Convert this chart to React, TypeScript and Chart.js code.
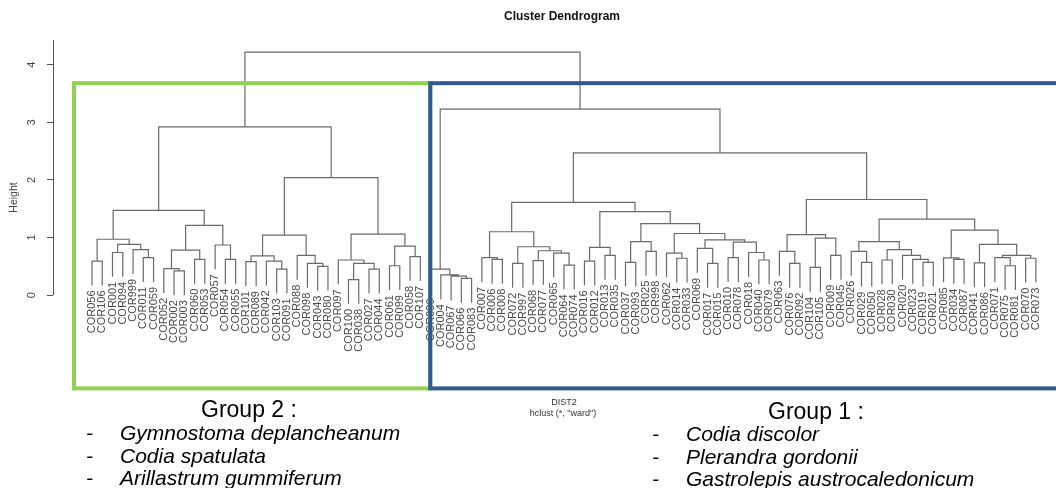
import React, { useEffect, useRef } from 'react';
import { Chart, registerables } from 'chart.js';

Chart.register(...registerables);

type Node = string | [Node, Node, number];

// ---- data (hclust of DIST2, ward) ----
const yTicks = [0, 1, 2, 3, 4];
const rootHeight = 4.22;
const group2Height = 2.92;
const group1Height = 3.23;
const group1MainHeight = 2.47;
const hangFraction = 0.1;

const group2SubA: Node = [
  [["COR056", "COR106", 0.59], [["COR001", "COR094", 0.74], ["COR999", ["COR011", "COR059", 0.65], 0.79], 0.88], 0.97],
  [[["COR052", ["COR002", "COR003", 0.42], 0.46], ["COR060", "COR053", 0.62], 0.78], ["COR057", ["COR054", "COR055", 0.62], 0.87], 1.21],
  1.47,
];
const group2SubB: Node = [
  [[["COR101", "COR089", 0.58], ["COR042", ["COR103", "COR091", 0.45], 0.59], 0.68], ["COR088", ["COR098", ["COR043", "COR080", 0.5], 0.55], 0.69], 1.04],
  [["COR097", [["COR100", "COR038", 0.27], ["COR027", "COR044", 0.45], 0.55], 0.61], [["COR061", "COR099", 0.51], ["COR058", "COR107", 0.67], 0.85], 1.06],
  2.04,
];
const group1Outliers: Node = ["COR039", ["COR004", ["COR067", ["COR066", "COR083", 0.29], 0.33], 0.35], 0.45];
const group1SubA: Node = [
  [["COR007", ["COR006", "COR008", 0.62], 0.65], [["COR072", "COR997", 0.55], [["COR068", "COR077", 0.6], ["COR065", ["COR064", "COR074", 0.52], 0.73], 0.77], 0.84], 1.1],
  [[["COR016", "COR012", 0.59], ["COR013", "COR035", 0.69], 0.83],
    [[["COR037", "COR093", 0.57], ["COR025", "COR998", 0.76], 0.93],
      [["COR062", ["COR014", "COR033", 0.64], 0.73],
        [["COR069", ["COR017", "COR015", 0.55], 0.81],
          [["COR010", "COR078", 0.65], ["COR018", ["COR040", "COR079", 0.61], 0.74], 0.92], 0.96], 1.07], 1.24], 1.45],
  1.61,
];
const group1SubB: Node = [
  [["COR063", ["COR076", "COR092", 0.55], 0.76], [["COR104", "COR105", 0.48], ["COR009", "COR045", 0.69], 0.99], 1.05],
  [[["COR026", ["COR029", "COR050", 0.57], 0.76], [["COR028", "COR030", 0.61], ["COR020", ["COR023", ["COR019", "COR021", 0.57], 0.62], 0.69], 0.79], 0.93],
    [["COR085", ["COR034", "COR087", 0.62], 0.645], [["COR041", "COR086", 0.56], [["COR071", ["COR075", "COR081", 0.51], 0.65], ["COR070", "COR073", 0.64], 0.69], 0.88], 1.13], 1.32],
  1.66,
];

const tree: Node = [
  [group2SubA, group2SubB, group2Height],
  [group1Outliers, [group1SubA, group1SubB, group1MainHeight], group1Height],
  rootHeight,
];

// group boxes in data units (leaf index, height)
const group2Box = [-1.75, 32.97, 3.68, -1.62];
const group1Box = [32.97, 100, 3.68, -1.62];

const group2Species = ['Gymnostoma deplancheanum', 'Codia spatulata', 'Arillastrum gummiferum'];
const group1Species = ['Codia discolor', 'Plerandra gordonii', 'Gastrolepis austrocaledonicum'];

function buildDendrogram(root: Node, hang: number) {
  const labels: string[] = [];
  const leafEnds: number[] = [];
  const points: { x: number; y: number | null }[] = [];
  function place(n: Node): { x: number; h: number; leaf: boolean } {
    if (typeof n === 'string') {
      labels.push(n);
      return { x: labels.length - 1, h: 0, leaf: true };
    }
    const [a, b, h] = n;
    const l = place(a);
    const r = place(b);
    const ly = l.leaf ? h - hang : l.h;
    const ry = r.leaf ? h - hang : r.h;
    if (l.leaf) leafEnds[l.x] = ly;
    if (r.leaf) leafEnds[r.x] = ry;
    points.push({ x: l.x, y: ly }, { x: l.x, y: h }, { x: r.x, y: h }, { x: r.x, y: ry }, { x: r.x, y: null });
    return { x: (l.x + r.x) / 2, h, leaf: false };
  }
  place(root);
  return { labels, leafEnds, points };
}

const FONT = 'Liberation Sans, Arial, Helvetica, sans-serif';

export default function App() {
  const ref = useRef<HTMLCanvasElement>(null);
  useEffect(() => {
    const dend = buildDendrogram(tree, hangFraction * rootHeight);

    const overlay = {
      id: 'overlay',
      afterDatasetsDraw(chart: any) {
        const { ctx, scales } = chart;
        const xs = scales.x;
        const ys = scales.y;
        ctx.save();
        // axis line from 0 up to top of plot
        ctx.strokeStyle = '#555';
        ctx.lineWidth = 1;
        ctx.beginPath();
        ctx.moveTo(chart.chartArea.left + 0.5, ys.getPixelForValue(0));
        ctx.lineTo(chart.chartArea.left + 0.5, chart.chartArea.top);
        ctx.stroke();
        // leaf labels
        ctx.fillStyle = '#4a4a4a';
        ctx.font = `11px ${FONT}`;
        ctx.textAlign = 'right';
        ctx.textBaseline = 'middle';
        dend.labels.forEach((lab, i) => {
          const px = xs.getPixelForValue(i);
          const py = ys.getPixelForValue(dend.leafEnds[i]) + 5;
          ctx.save();
          ctx.translate(px, py);
          ctx.rotate(-Math.PI / 2);
          ctx.fillText(lab, 0, 0);
          ctx.restore();
        });
        ctx.restore();
      },
      afterDraw(chart: any) {
        const { ctx, scales } = chart;
        const xs = scales.x;
        const ys = scales.y;
        ctx.save();
        const box = (b: number[], color: string) => {
          const x0 = xs.getPixelForValue(b[0]);
          const x1 = xs.getPixelForValue(b[1]);
          const y0 = ys.getPixelForValue(b[2]);
          const y1 = ys.getPixelForValue(b[3]);
          ctx.strokeStyle = color;
          ctx.lineWidth = 4;
          ctx.strokeRect(x0, y0, x1 - x0, y1 - y0);
        };
        box(group2Box, '#92d050');
        box(group1Box, '#2f5a94');

        // titles
        ctx.fillStyle = '#111';
        ctx.textBaseline = 'alphabetic';
        ctx.textAlign = 'center';
        ctx.font = `bold 12px ${FONT}`;
        ctx.fillText('Cluster Dendrogram', 562, 20);
        ctx.fillStyle = '#333';
        ctx.font = `9px ${FONT}`;
        ctx.fillText('DIST2', 564, 405);
        ctx.fillText('hclust (*, "ward")', 563, 416);

        // group annotations
        ctx.fillStyle = '#000';
        ctx.textAlign = 'left';
        ctx.font = `23px ${FONT}`;
        ctx.fillText('Group 2 :', 201, 417);
        ctx.fillText('Group 1 :', 768, 419);
        ctx.font = `italic 21px ${FONT}`;
        group2Species.forEach((s, i) => {
          const yb = 440 + i * 22.5;
          ctx.fillText('-', 86, yb);
          ctx.fillText(s, 120, yb);
        });
        group1Species.forEach((s, i) => {
          const yb = 441 + i * 22.5;
          ctx.fillText('-', 652, yb);
          ctx.fillText(s, 686, yb);
        });
        ctx.restore();
      },
    };

    const chart = new Chart(ref.current as HTMLCanvasElement, {
      type: 'line',
      data: {
        datasets: [
          {
            data: dend.points as any,
            borderColor: '#6a6a6a',
            borderWidth: 1.2,
            pointRadius: 0,
            spanGaps: false,
            tension: 0,
            fill: false,
          },
        ],
      },
      options: {
        animation: false,
        responsive: false,
        events: [],
        layout: { padding: { top: 40, left: 0, right: 8, bottom: 133 } },
        plugins: { legend: { display: false }, tooltip: { enabled: false }, title: { display: false } },
        scales: {
          x: { type: 'linear', display: false, min: -3.8, max: 93.18 },
          y: {
            type: 'linear',
            min: -1.04,
            max: 4.43,
            afterFit: (s: any) => {
              s.width = 53;
            },
            afterBuildTicks: (s: any) => {
              s.ticks = yTicks.map((v) => ({ value: v }));
            },
            ticks: {
              minRotation: 90,
              maxRotation: 90,
              crossAlign: 'center',
              padding: 12,
              color: '#444',
              font: { family: FONT, size: 11 },
            },
            grid: { drawOnChartArea: false, drawTicks: true, tickLength: 6, color: '#555' },
            border: { display: false },
            title: {
              display: true,
              text: 'Height',
              color: '#444',
              font: { family: FONT, size: 10.5 },
              padding: { top: 8, bottom: 0 },
            },
          },
        },
      } as any,
      plugins: [overlay],
    });
    return () => chart.destroy();
  }, []);

  return (
    <div style={{ position: 'absolute', left: 0, top: 0, width: 1056, height: 488, background: '#fff' }}>
      <canvas ref={ref} width={1056} height={488} style={{ display: 'block' }} />
    </div>
  );
}
